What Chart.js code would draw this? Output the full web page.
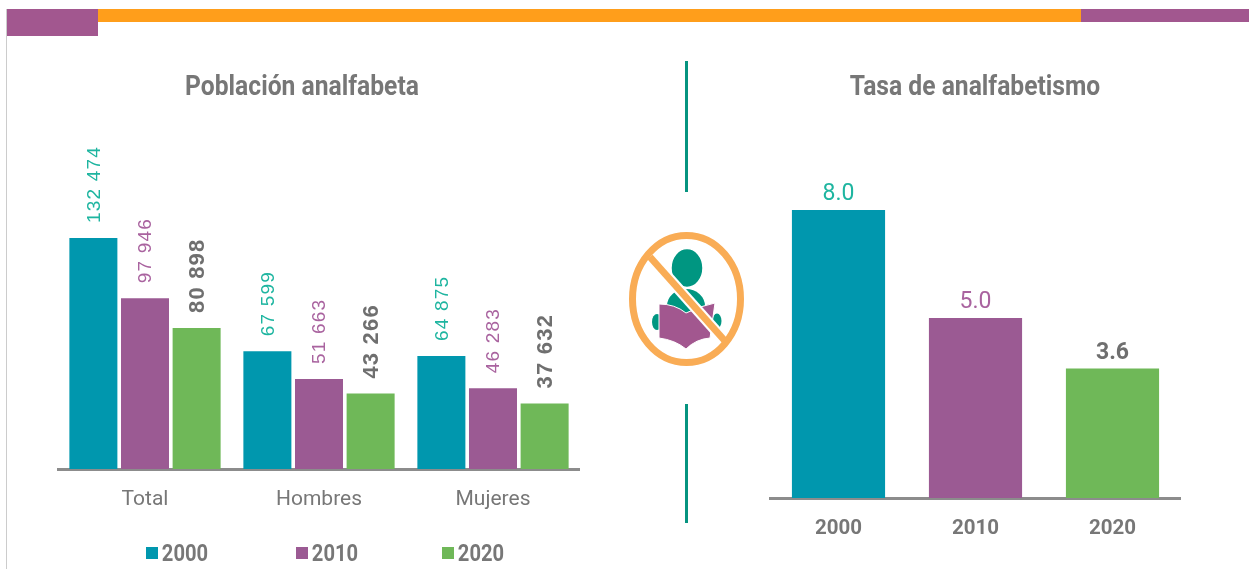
<!DOCTYPE html>
<html lang="es">
<head>
<meta charset="utf-8">
<title>Analfabetismo</title>
<script src="https://cdn.jsdelivr.net/npm/chart.js@4"></script>
<style>
    html, body { margin: 0; padding: 0; background: #fff; }
    #page { position: relative; width: 1249px; height: 569px; overflow: hidden; background: #fff; }
    #page div.deco { position: absolute; }
    #leftBox { position: absolute; left: 0; top: 0; width: 580px; height: 569px; }
    #rightBox { position: absolute; left: 700px; top: 0; width: 481px; height: 569px; }
    #icon { position: absolute; left: 610px; top: 210px; }
    /* the source uses a condensed face, so squeeze Roboto horizontally */
    .title, .legendText {
        position: absolute;
        font-family: Roboto, sans-serif;
        font-weight: bold;
        color: #777;
        white-space: nowrap;
        transform: translateX(-50%) scaleX(0.84);
    }
    .title { top: 69px; font-size: 28px; line-height: 34px; transform: translateX(-50%) scaleX(0.88); }
    .legendText { top: 538px; font-size: 24px; line-height: 30px; }
    .legendBox { position: absolute; top: 547px; width: 12px; height: 12px; }
</style>
</head>
<body>
<div id="page">
    <div id="leftBox"><canvas id="poblacion"></canvas></div>
    <div id="rightBox"><canvas id="tasa"></canvas></div>

    <!-- header bands and separators -->
    <div class="deco" style="left:6px;top:9px;width:1px;height:560px;background:#ccc"></div>
    <div class="deco" style="left:98px;top:9px;width:983px;height:13px;background:#ff9e1b"></div>
    <div class="deco" style="left:7px;top:9px;width:91px;height:27px;background:#a2578f"></div>
    <div class="deco" style="left:1081px;top:9px;width:168px;height:13px;background:#a2578f"></div>
    <div class="deco" style="left:685px;top:61px;width:3px;height:131px;background:#069480"></div>
    <div class="deco" style="left:685px;top:404px;width:3px;height:119px;background:#069480"></div>

    <div class="title" style="left:302px">Población analfabeta</div>
    <div class="title" style="left:975px">Tasa de analfabetismo</div>
    <div id="legend"></div>

    <svg id="icon" width="160" height="170" viewBox="0 0 160 170">
        <ellipse cx="76" cy="96" rx="19" ry="17" fill="#009681"/>
        <ellipse cx="77" cy="58" rx="16" ry="19.5" fill="#009681" stroke="#fff" stroke-width="1.5"/>
        <ellipse cx="47" cy="112" rx="5" ry="8" fill="#009681"/>
        <ellipse cx="107" cy="111" rx="4.5" ry="7.5" fill="#009681"/>
        <path d="M49 94 Q65 94 76 103 Q90 96 105 93 L100 128 Q86 129 76 139 Q65 130 49 128 Z" fill="#a2578f" stroke="#fff" stroke-width="1"/>
        <line x1="40" y1="47" x2="115" y2="131" stroke="#fff" stroke-width="11"/>
        <ellipse cx="76.5" cy="89" rx="54" ry="63.5" fill="none" stroke="#f9ac55" stroke-width="7"/>
        <line x1="40" y1="47" x2="115" y2="131" stroke="#f9ac55" stroke-width="7"/>
    </svg>
</div>

<script>
// Población analfabeta
const categories = ['Total', 'Hombres', 'Mujeres'];
const legendYears = ['2000', '2010', '2020'];
const values2000 = [132474, 67599, 64875];
const values2010 = [97946, 51663, 46283];
const values2020 = [80898, 43266, 37632];

// Tasa de analfabetismo
const years = ['2000', '2010', '2020'];
const rates = [8.0, 5.0, 3.6];

const TEAL = '#0097ae';
const PURPLE = '#9b5a93';
const GREEN = '#6fb858';
const GRAY = '#777777';
const AXIS = '#8c8c8c';
const ROBOTO = 'Roboto, sans-serif';
const SANS = '"Liberation Sans", sans-serif';

// Label style per year: 2000 teal, 2010 purple, 2020 bold gray
const LABEL_COLORS = ['#1eb5a0', '#a9639f', '#6f6f6f'];
const BAR_COLORS = [TEAL, PURPLE, GREEN];

// Values with a space as thousands separator
function formatPeople(value) {
    return String(value).replace(/\B(?=(\d{3})+$)/g, ' ');
}

// Rotated labels over the left chart bars
const rotatedLabels = {
    id: 'rotatedLabels',
    afterDatasetsDraw(chart) {
        const ctx = chart.ctx;
        chart.data.datasets.forEach((dataset, i) => {
            chart.getDatasetMeta(i).data.forEach((bar, j) => {
                ctx.save();
                ctx.translate(bar.x + 1, bar.y - 15);
                ctx.rotate(-Math.PI / 2);
                ctx.font = i === 2 ? 'bold 22px ' + SANS : '19px ' + SANS;
                ctx.letterSpacing = '1.2px';
                ctx.fillStyle = LABEL_COLORS[i];
                ctx.textAlign = 'left';
                ctx.textBaseline = 'middle';
                ctx.fillText(formatPeople(dataset.data[j]), 0, 0);
                ctx.restore();
            });
        });
    }
};

// Plain labels over the right chart bars
const rateLabels = {
    id: 'rateLabels',
    afterDatasetsDraw(chart) {
        const ctx = chart.ctx;
        chart.getDatasetMeta(0).data.forEach((bar, j) => {
            ctx.save();
            ctx.font = (j === 2 ? 'bold ' : '') + '23px ' + ROBOTO;
            ctx.fillStyle = LABEL_COLORS[j];
            ctx.textAlign = 'center';
            ctx.textBaseline = 'bottom';
            ctx.fillText(rates[j].toFixed(1), bar.x, bar.y - 4);
            ctx.restore();
        });
    }
};

const poblacionChart = new Chart(document.getElementById('poblacion'), {
    type: 'bar',
    data: {
        labels: categories,
        datasets: [
            { label: legendYears[0], data: values2000, backgroundColor: TEAL },
            { label: legendYears[1], data: values2010, backgroundColor: PURPLE },
            { label: legendYears[2], data: values2020, backgroundColor: GREEN }
        ]
    },
    options: {
        responsive: true,
        maintainAspectRatio: false,
        animation: false,
        categoryPercentage: 0.89,
        barPercentage: 0.93,
        layout: { padding: { left: 58, top: 103 } },
        scales: {
            x: {
                afterFit: scale => { scale.height = 100; },
                grid: { display: false, drawTicks: false },
                border: { color: AXIS, width: 3 },
                ticks: { color: GRAY, padding: 18, font: { family: ROBOTO, size: 21 } }
            },
            y: { display: false, min: 0, max: 210000 }
        },
        plugins: {
            legend: { display: false },
            tooltip: { enabled: false }
        }
    },
    plugins: [rotatedLabels]
});

new Chart(document.getElementById('tasa'), {
    type: 'bar',
    data: {
        labels: years,
        datasets: [
            { label: 'Tasa', data: rates, backgroundColor: BAR_COLORS }
        ]
    },
    options: {
        responsive: true,
        maintainAspectRatio: false,
        animation: false,
        categoryPercentage: 0.68,
        barPercentage: 1,
        layout: { padding: { left: 70, top: 138 } },
        scales: {
            x: {
                afterFit: scale => { scale.height = 71; },
                grid: { display: false, drawTicks: false },
                border: { color: AXIS, width: 3 },
                ticks: { color: GRAY, padding: 19, font: { family: ROBOTO, size: 20.5, weight: 'bold' } }
            },
            y: { display: false, min: 0, max: 10 }
        },
        plugins: {
            legend: { display: false },
            tooltip: { enabled: false }
        }
    },
    plugins: [rateLabels]
});

// HTML legend, built from the left chart's datasets
const legendEl = document.getElementById('legend');
const LEGEND_LEFT = [146, 296, 442];
poblacionChart.data.datasets.forEach((dataset, i) => {
    const box = document.createElement('div');
    box.className = 'legendBox';
    box.style.left = LEGEND_LEFT[i] + 'px';
    box.style.background = dataset.backgroundColor;
    const text = document.createElement('div');
    text.className = 'legendText';
    text.style.left = (LEGEND_LEFT[i] + 39) + 'px';
    text.textContent = dataset.label;
    legendEl.append(box, text);
});
</script>
</body>
</html>
